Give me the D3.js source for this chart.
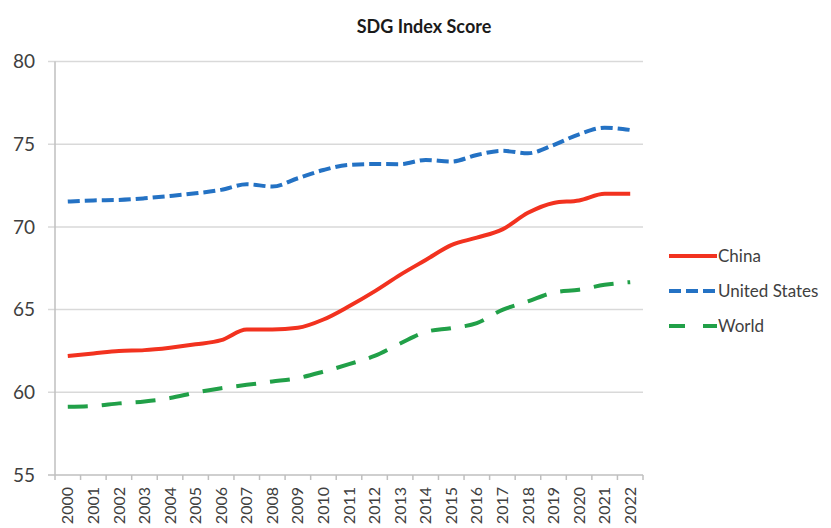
<!DOCTYPE html>
<html>
<head>
<meta charset="utf-8">
<script src="https://cdn.jsdelivr.net/npm/d3@7"></script>
<style>
  body { margin: 0; background: #fff; }
  text { font-family: Lato, "Open Sans", sans-serif; fill: #404040; }
</style>
</head>
<body>
<div id="chart-area"></div>
<script>
// data
const years = ["2000","2001","2002","2003","2004","2005","2006","2007","2008","2009","2010",
  "2011","2012","2013","2014","2015","2016","2017","2018","2019","2020","2021","2022"];
const china = [62.2, 62.35, 62.5, 62.55, 62.7, 62.9, 63.15, 63.8, 63.8, 63.9, 64.4,
  65.2, 66.1, 67.1, 68.0, 68.9, 69.35, 69.85, 70.85, 71.45, 71.6, 72.0, 72.0];
const unitedStates = [71.53, 71.6, 71.63, 71.73, 71.87, 72.03, 72.24, 72.58, 72.44, 72.94, 73.44,
  73.75, 73.8, 73.79, 74.05, 73.95, 74.35, 74.6, 74.45, 74.95, 75.6, 76.0, 75.86];
const world = [59.12, 59.18, 59.33, 59.45, 59.65, 59.98, 60.25, 60.45, 60.65, 60.86, 61.25,
  61.7, 62.2, 62.95, 63.65, 63.88, 64.18, 64.98, 65.5, 66.03, 66.2, 66.5, 66.66];
const yTicks = [55, 60, 65, 70, 75, 80];
const seriesNames = ["China", "United States", "World"];

const margin = { left: 55, right: 188, top: 61.5, bottom: 53 };
const W = 831, H = 528;
const width = W - margin.left - margin.right,
      height = H - margin.top - margin.bottom;

const svg = d3.select("#chart-area").append("svg")
  .attr("width", W).attr("height", H);

// title
svg.append("text")
  .attr("x", 424).attr("y", 33)
  .attr("text-anchor", "middle")
  .style("font-size", "18px").style("font-weight", "bold")
  .style("fill", "#1a1a1a")
  .text("SDG Index Score");

const g = svg.append("g").attr("transform", "translate(" + margin.left + "," + margin.top + ")");

const x = d3.scaleBand().domain(years).range([0, width]);
const y = d3.scaleLinear().domain([55, 80]).range([height, 0]);

// gridlines + y ticks
g.selectAll(".grid").data(yTicks).enter().append("line")
  .attr("x1", -7).attr("x2", width)
  .attr("y1", d => y(d)).attr("y2", d => y(d))
  .attr("stroke", d => d === 55 ? "#bfbfbf" : "#d9d9d9")
  .attr("stroke-width", 1.5);

g.selectAll(".ylab").data(yTicks).enter().append("text")
  .attr("x", -20).attr("y", d => y(d))
  .attr("dy", "0.35em")
  .attr("text-anchor", "end")
  .style("font-size", "19px")
  .text(d => d);

// y axis line
g.append("line").attr("x1", 0).attr("x2", 0).attr("y1", 0).attr("y2", height)
  .attr("stroke", "#bfbfbf").attr("stroke-width", 1.5);

// x ticks at category boundaries
const bounds = years.map(d => x(d)).concat([x(years[years.length - 1]) + x.bandwidth()]);
g.selectAll(".xtick").data(bounds).enter().append("line")
  .attr("x1", d => d).attr("x2", d => d)
  .attr("y1", height).attr("y2", height + 5)
  .attr("stroke", "#bfbfbf").attr("stroke-width", 1.5);

g.selectAll(".xlab").data(years).enter().append("text")
  .attr("transform", d => "translate(" + (x(d) + x.bandwidth() / 2) + "," + (height + 12) + ") rotate(-90)")
  .attr("dy", "0.35em")
  .attr("text-anchor", "end")
  .style("font-size", "16px")
  .text(d => d);

// lines
const series = [
  { name: "China", values: china, color: "#f2321f", dash: null },
  { name: "United States", values: unitedStates, color: "#2472c4", dash: "12,5" },
  { name: "World", values: world, color: "#21a048", dash: "20,14" }
];

const line = d3.line()
  .x((d, i) => x(years[i]) + x.bandwidth() / 2)
  .y(d => y(d))
  .curve(d3.curveMonotoneX);

g.selectAll(".series").data(series).enter().append("path")
  .attr("d", d => line(d.values))
  .attr("fill", "none")
  .attr("stroke", d => d.color)
  .attr("stroke-width", 4)
  .attr("stroke-dasharray", d => d.dash);

// legend
const legend = svg.append("g").attr("transform", "translate(669,256)");
const item = legend.selectAll(".item").data(series).enter().append("g")
  .attr("transform", (d, i) => "translate(0," + (i * 35) + ")");
item.append("line")
  .attr("x1", 0).attr("x2", 48).attr("y1", 0).attr("y2", 0)
  .attr("stroke", d => d.color).attr("stroke-width", 4)
  .attr("stroke-dasharray", d => d.name === "World" ? "16,18" : d.dash);
item.append("text")
  .attr("x", 49).attr("dy", "0.35em")
  .style("font-size", "17px")
  .text(d => d.name);
</script>
</body>
</html>
